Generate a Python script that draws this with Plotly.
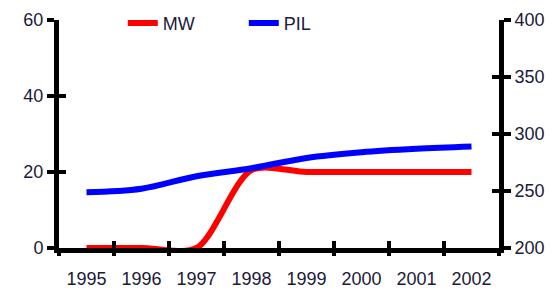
import plotly.graph_objects as go

years = [1995, 1996, 1997, 1998, 1999, 2000, 2001, 2002]
year_labels = [str(y) for y in years]
mw = [0, 0, 0, 20.5, 20, 20, 20, 20]
pil = [249, 252, 263, 270, 279, 284, 287, 289]
left_ticks = [0, 20, 40, 60]
right_ticks = [200, 250, 300, 350, 400]
boundaries = [1994.5 + i for i in range(9)]

FONT = dict(family="Liberation Sans, Arial, sans-serif", size=18, color="#1a1a3a")

fig = go.Figure()
fig.add_trace(go.Scatter(x=years, y=mw, name="MW", mode="lines",
                         line=dict(color="#ff0000", width=6, shape="spline", smoothing=0.8),
                         yaxis="y"))
fig.add_trace(go.Scatter(x=years, y=pil, name="PIL", mode="lines",
                         line=dict(color="#0000ff", width=6, shape="spline"),
                         yaxis="y2"))

xr = [1994.5, 2002.5]
common_tick = dict(ticklen=7, tickwidth=4, tickcolor="black")
fig.update_layout(
    width=552, height=290,
    margin=dict(l=59, r=53, t=20, b=42, autoexpand=False),
    paper_bgcolor="white", plot_bgcolor="white",
    font=FONT,
    showlegend=True,
    legend=dict(orientation="h", x=0.145, y=0.985, xanchor="left", yanchor="middle",
                bgcolor="rgba(0,0,0,0)", font=dict(size=18, color="#1a1a3a"),
                entrywidth=76, itemwidth=30),
    xaxis=dict(range=xr, tickvals=years, ticktext=year_labels, ticks="",
               showgrid=False, zeroline=False, showline=True, linewidth=5,
               linecolor="black", tickfont=FONT, ticklabelstandoff=10),
    xaxis2=dict(range=xr, overlaying="x", anchor="y", side="bottom",
                tickvals=boundaries, ticks="outside", showticklabels=False,
                showgrid=False, zeroline=False, showline=False, **common_tick),
    xaxis3=dict(range=xr, overlaying="x", anchor="y", side="bottom",
                tickvals=boundaries, ticks="inside", showticklabels=False,
                showgrid=False, zeroline=False, showline=False, **common_tick),
    yaxis=dict(range=[0, 60], tickvals=left_ticks, ticks="outside",
               showgrid=False, zeroline=False, showline=True, linewidth=5,
               linecolor="black", tickfont=FONT, **common_tick),
    yaxis2=dict(range=[200, 400], tickvals=right_ticks, ticks="outside",
                overlaying="y", side="right", anchor="x",
                showgrid=False, zeroline=False, showline=True, linewidth=5,
                linecolor="black", tickfont=FONT, **common_tick),
    yaxis3=dict(range=[0, 60], tickvals=left_ticks, ticks="inside",
                overlaying="y", side="left", anchor="x", showticklabels=False,
                showgrid=False, zeroline=False, showline=False, **common_tick),
    yaxis4=dict(range=[200, 400], tickvals=right_ticks, ticks="inside",
                overlaying="y", side="right", anchor="x", showticklabels=False,
                showgrid=False, zeroline=False, showline=False, **common_tick),
)
# invisible helper traces so the overlay tick axes render
fig.add_trace(go.Scatter(x=[years[0]], y=[0], xaxis="x2", yaxis="y3",
                         mode="markers", marker=dict(opacity=0), showlegend=False,
                         hoverinfo="skip"))
fig.add_trace(go.Scatter(x=[years[0]], y=[200], xaxis="x3", yaxis="y4",
                         mode="markers", marker=dict(opacity=0), showlegend=False,
                         hoverinfo="skip"))

fig.write_html("out.html", config={"displayModeBar": False},
               post_script="document.body.style.margin='0';document.body.style.overflow='hidden';")
